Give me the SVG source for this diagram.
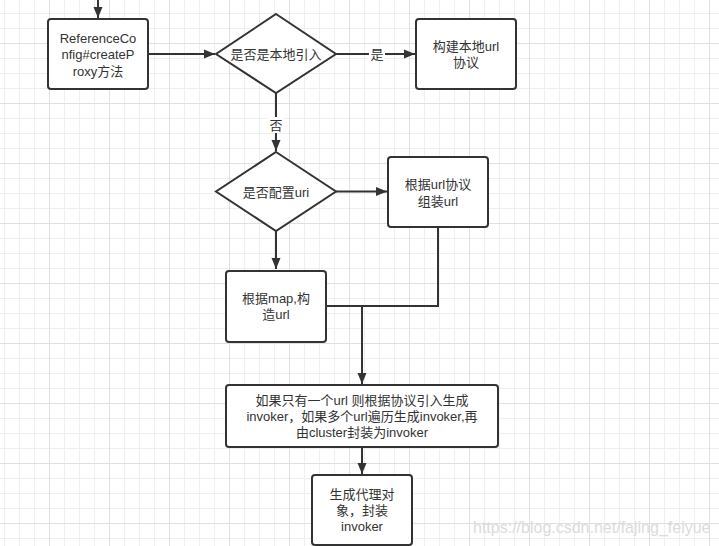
<svg xmlns="http://www.w3.org/2000/svg" width="719" height="546" viewBox="0 0 719 546">
<style>
.box{fill:#fff;stroke:#333;stroke-width:2}
.edge{fill:none;stroke:#333;stroke-width:2}
.t{font-family:"Liberation Sans","Noto Sans CJK SC",sans-serif;font-size:13px;fill:#333;text-anchor:middle}
.lbl{fill:#fff}
</style>
<defs>
<pattern id="grid" patternUnits="userSpaceOnUse" x="-11" y="-17" width="60" height="60">
<rect x="15" y="0" width="1" height="60" fill="#efefef"/>
<rect x="30" y="0" width="1" height="60" fill="#efefef"/>
<rect x="45" y="0" width="1" height="60" fill="#efefef"/>
<rect x="0" y="15" width="60" height="1" fill="#efefef"/>
<rect x="0" y="30" width="60" height="1" fill="#efefef"/>
<rect x="0" y="45" width="60" height="1" fill="#efefef"/>
<rect x="0" y="0" width="1" height="60" fill="#e0e0e0"/>
<rect x="0" y="0" width="60" height="1" fill="#e0e0e0"/>
</pattern>
<marker id="arr" markerUnits="userSpaceOnUse" markerWidth="12" markerHeight="10" refX="11" refY="5" orient="auto">
<path d="M0,0.5 L11,5 L0,9.5 Z" fill="#333"/>
</marker>
</defs>
<rect width="719" height="546" fill="#fff"/>
<rect width="719" height="546" fill="url(#grid)"/>
<text x="473" y="533" font-family="'Liberation Sans',sans-serif" font-size="16" fill="#dcdcdc">https://blog.csdn.net/fajing_feiyue</text>

<g id="connectors">
<path class="edge" d="M98,0 V18" marker-end="url(#arr)"/>
<path class="edge" d="M148,54 H215" marker-end="url(#arr)"/>
<path class="edge" d="M335,54 H415" marker-end="url(#arr)"/>
<rect class="lbl" x="369" y="46" width="16" height="16"/>
<text class="t" x="377" y="58.5">是</text>
<path class="edge" d="M276,93 V151" marker-end="url(#arr)"/>
<rect class="lbl" x="268" y="117" width="16" height="16"/>
<text class="t" x="276" y="129.5">否</text>
<path class="edge" d="M336,191.5 H387" marker-end="url(#arr)"/>
<path class="edge" d="M276,231 V269" marker-end="url(#arr)"/>
<path class="edge" d="M438,227 V306 H362"/>
<path class="edge" d="M326,306 H362 V384" marker-end="url(#arr)"/>
<path class="edge" d="M362,447 V474" marker-end="url(#arr)"/>
</g>

<g id="n_createProxy">
<rect class="box" x="48" y="19" width="100" height="70" rx="3"/>
<text class="t" x="98" y="42.5">ReferenceCo</text>
<text class="t" x="98" y="59">nfig#createP</text>
<text class="t" x="98" y="75.5">roxy方法</text>
</g>
<g id="n_isLocal">
<polygon class="box" points="276,14 336,54 276,93 216,54"/>
<text class="t" x="276" y="58.5">是否是本地引入</text>
</g>
<g id="n_localUrl">
<rect class="box" x="416" y="19" width="100" height="70" rx="3"/>
<text class="t" x="466" y="51">构建本地url</text>
<text class="t" x="466" y="67">协议</text>
</g>
<g id="n_hasUrl">
<polygon class="box" points="276,152 336,191.5 276,231 216,191.5"/>
<text class="t" x="276" y="197">是否配置uri</text>
</g>
<g id="n_assembleUrl">
<rect class="box" x="388" y="157" width="100" height="70" rx="3"/>
<text class="t" x="438" y="189">根据url协议</text>
<text class="t" x="438" y="205.5">组装url</text>
</g>
<g id="n_mapUrl">
<rect class="box" x="226" y="271" width="100" height="71" rx="3"/>
<text class="t" x="276" y="303">根据map,构</text>
<text class="t" x="276" y="319">造url</text>
</g>
<g id="n_invoker">
<rect class="box" x="226" y="385" width="272" height="62" rx="3"/>
<text class="t" x="362" y="405">如果只有一个url 则根据协议引入生成</text>
<text class="t" x="362" y="421">invoker，如果多个url遍历生成invoker,再</text>
<text class="t" x="362" y="437">由cluster封装为invoker</text>
</g>
<g id="n_proxy">
<rect class="box" x="312" y="475" width="100" height="70" rx="3"/>
<text class="t" x="362" y="499">生成代理对</text>
<text class="t" x="362" y="515">象，封装</text>
<text class="t" x="362" y="531">invoker</text>
</g>
</svg>
